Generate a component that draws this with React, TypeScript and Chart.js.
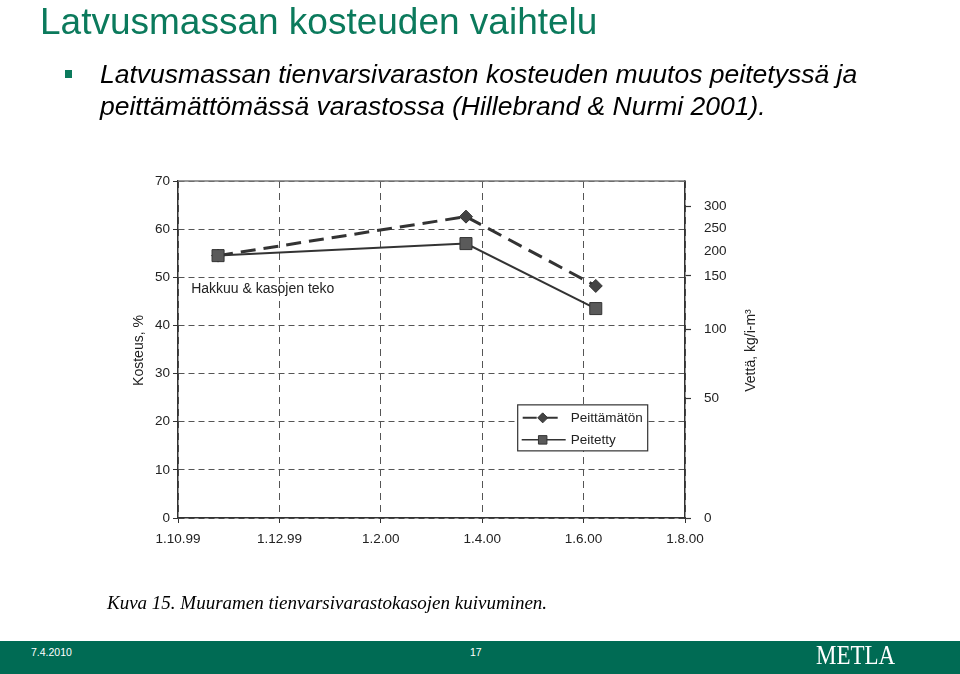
import React, { useEffect, useRef } from "react";
import { Chart, registerables } from "chart.js";

Chart.register(...registerables);

const TITLE = "Latvusmassan kosteuden vaihtelu";
const BULLET_LINES = [
  "Latvusmassan tienvarsivaraston kosteuden muutos peitetyssä ja",
  "peittämättömässä varastossa (Hillebrand & Nurmi 2001).",
];
const CAPTION = "Kuva 15. Muuramen tienvarsivarastokasojen kuivuminen.";
const FOOTER_DATE = "7.4.2010";
const FOOTER_PAGE = "17";
const LOGO = "METLA";

// x: months since 1.10.1999
const xTickMonths = [0, 2, 4, 6, 8, 10];
const xTickLabels = ["1.10.99", "1.12.99", "1.2.00", "1.4.00", "1.6.00", "1.8.00"];
const measureMonths = [0.79, 5.68, 8.24];
const peittamatonValues = [54.5, 62.6, 48.2];
const peitettyValues = [54.5, 57.0, 43.5];
const seriesLabels = ["Peittämätön", "Peitetty"];

const leftTicks = [0, 10, 20, 30, 40, 50, 60, 70];
// right axis: water content labels and the moisture-% level at which each sits
const rightTickLabels = ["0", "50", "100", "150", "200", "250", "300"];
const rightTickMoisture = [0, 24.9, 39.1, 50.3, 55.3, 60.1, 64.7];

const leftAxisTitle = "Kosteus, %";
const rightAxisTitle = "Vettä, kg/i-m³";
const annotationText = "Hakkuu & kasojen teko";
const annotationAt = { month: 0.26, value: 47.6 };
const legendAt = { month: 6.7, value: 23.5 };

const SANS = "'Liberation Sans', Arial, sans-serif";
const SERIF = "'Liberation Serif', 'Times New Roman', serif";
const INK = "#222";
const GREEN = "#0B7A5C";
const BAR = "#006B54";

function drawMarker(ctx: CanvasRenderingContext2D, style: string, x: number, y: number, r: number) {
  ctx.beginPath();
  if (style === "rectRot") {
    ctx.moveTo(x, y - r);
    ctx.lineTo(x + r, y);
    ctx.lineTo(x, y + r);
    ctx.lineTo(x - r, y);
    ctx.closePath();
  } else {
    const s = r * Math.SQRT1_2;
    ctx.rect(x - s, y - s, 2 * s, 2 * s);
  }
  ctx.fill();
  ctx.stroke();
}

const extrasPlugin = {
  id: "extras",
  afterDraw(chart: any) {
    const { ctx, chartArea, scales } = chart;
    const xs = scales.x;
    const ys = scales.y;
    ctx.save();
    // top frame line
    ctx.strokeStyle = "#777";
    ctx.lineWidth = 1.5;
    ctx.beginPath();
    ctx.moveTo(chartArea.left, chartArea.top);
    ctx.lineTo(chartArea.right, chartArea.top);
    ctx.stroke();

    // annotation
    ctx.fillStyle = INK;
    ctx.font = `14px ${SANS}`;
    ctx.textAlign = "left";
    ctx.textBaseline = "middle";
    ctx.fillText(annotationText, xs.getPixelForValue(annotationAt.month), ys.getPixelForValue(annotationAt.value));

    // axis titles
    const midY = (chartArea.top + chartArea.bottom) / 2 + 1;
    ctx.font = `14px ${SANS}`;
    ctx.textAlign = "center";
    ctx.save();
    ctx.translate(139, midY);
    ctx.rotate(-Math.PI / 2);
    ctx.fillText(leftAxisTitle, 0, 0);
    ctx.restore();
    ctx.save();
    ctx.translate(751, midY);
    ctx.rotate(-Math.PI / 2);
    ctx.fillText(rightAxisTitle, 0, 0);
    ctx.restore();

    // legend box
    const lx = xs.getPixelForValue(legendAt.month);
    const ly = ys.getPixelForValue(legendAt.value);
    const w = 130;
    const h = 46;
    ctx.fillStyle = "#fff";
    ctx.fillRect(lx, ly, w, h);
    ctx.strokeStyle = "#333";
    ctx.lineWidth = 1.2;
    ctx.strokeRect(lx, ly, w, h);
    chart.data.datasets.forEach((ds: any, i: number) => {
      const ry = ly + 13 + i * 22;
      ctx.strokeStyle = "#333";
      ctx.lineWidth = i === 0 ? 2 : 1.5;
      ctx.setLineDash(i === 0 ? [14, 7] : []);
      ctx.lineDashOffset = i === 0 ? -1 : 0;
      ctx.beginPath();
      ctx.moveTo(lx + 4, ry);
      ctx.lineTo(lx + (i === 0 ? 43 : 48), ry);
      ctx.stroke();
      ctx.setLineDash([]);
      ctx.fillStyle = ds.pointBackgroundColor;
      ctx.strokeStyle = ds.pointBorderColor;
      ctx.lineWidth = 1;
      drawMarker(ctx, ds.pointStyle, lx + 25, ry, i === 0 ? 5 : 6);
      ctx.fillStyle = INK;
      ctx.font = `13.5px ${SANS}`;
      ctx.textAlign = "left";
      ctx.textBaseline = "middle";
      ctx.fillText(ds.label, lx + 53, ry);
    });
    ctx.restore();
  },
};

function MoistureChart() {
  const ref = useRef<HTMLCanvasElement | null>(null);
  useEffect(() => {
    if (!ref.current) return;
    const tickFont = { family: SANS, size: 13.5 };
    const chart = new Chart(ref.current, {
      type: "line",
      data: {
        datasets: [
          {
            label: seriesLabels[0],
            data: measureMonths.map((m, i) => ({ x: m, y: peittamatonValues[i] })),
            borderColor: "#333",
            borderWidth: 3,
            borderDash: [15, 8],
            pointStyle: "rectRot",
            pointRadius: 6.5,
            pointBackgroundColor: "#444",
            pointBorderColor: "#333",
            pointBorderWidth: 1,
            order: 1,
          },
          {
            label: seriesLabels[1],
            data: measureMonths.map((m, i) => ({ x: m, y: peitettyValues[i] })),
            borderColor: "#333",
            borderWidth: 2,
            pointStyle: "rect",
            pointRadius: 8.5,
            pointBackgroundColor: "#5a5a5a",
            pointBorderColor: "#333",
            pointBorderWidth: 1,
            order: 0,
          },
        ] as any,
      },
      options: {
        animation: false,
        responsive: false,
        events: [],
        layout: { padding: { left: 120, right: 190, top: 181, bottom: 119 } },
        plugins: { legend: { display: false }, tooltip: { enabled: false } },
        scales: {
          x: {
            type: "linear",
            min: 0,
            max: 10,
            afterBuildTicks: (s: any) => {
              s.ticks = xTickMonths.map((v) => ({ value: v }));
            },
            afterFit: (s: any) => {
              s.height = 37;
            },
            ticks: {
              callback: (_v: any, i: number) => xTickLabels[i],
              color: INK,
              font: tickFont,
              padding: 8,
              maxRotation: 0,
              autoSkip: false,
            },
            grid: { color: "#555", lineWidth: 1, tickLength: 5, tickColor: "#333", tickBorderDash: [] },
            border: { display: true, color: "#333", width: 1.5, dash: [7, 5] },
          },
          y: {
            type: "linear",
            position: "left",
            min: 0,
            max: 70,
            afterBuildTicks: (s: any) => {
              s.ticks = leftTicks.map((v) => ({ value: v }));
            },
            afterFit: (s: any) => {
              s.width = 58;
            },
            ticks: { color: INK, font: tickFont, padding: 3 },
            grid: { color: "#555", lineWidth: 1, tickLength: 5, tickColor: "#333", tickBorderDash: [] },
            border: { display: true, color: "#333", width: 1.5, dash: [6, 4] },
          },
          y2: {
            type: "linear",
            position: "right",
            min: 0,
            max: 70,
            afterBuildTicks: (s: any) => {
              s.ticks = rightTickMoisture.map((v) => ({ value: v }));
            },
            afterFit: (s: any) => {
              s.width = 85;
            },
            ticks: {
              callback: (_v: any, i: number) => rightTickLabels[i],
              color: INK,
              font: tickFont,
              padding: 13,
            },
            grid: {
              drawOnChartArea: false,
              tickLength: 6,
              tickColor: (c: any) => (c.index === 4 || c.index === 5 ? "rgba(0,0,0,0)" : "#333"),
              tickWidth: 1.2,
              tickBorderDash: [],
            },
            border: { display: true, color: "#333", width: 1.5 },
          },
        },
      } as any,
      plugins: [extrasPlugin],
    });
    return () => chart.destroy();
  }, []);
  return (
    <canvas
      ref={ref}
      width={960}
      height={674}
      style={{ position: "absolute", left: 0, top: 0, width: 960, height: 674 }}
    />
  );
}

export default function App() {
  return (
    <div
      style={{
        position: "fixed",
        left: 0,
        top: 0,
        width: 960,
        height: 674,
        background: "#fff",
        overflow: "hidden",
        fontFamily: SANS,
      }}
    >
      <MoistureChart />
      <div
        style={{
          position: "absolute",
          left: 40,
          top: 3,
          fontSize: 37,
          lineHeight: "37px",
          color: GREEN,
          whiteSpace: "nowrap",
        }}
      >
        {TITLE}
      </div>
      <div style={{ position: "absolute", left: 65, top: 70, width: 7, height: 8, background: GREEN }} />
      <div
        style={{
          position: "absolute",
          left: 100,
          top: 58,
          fontSize: 26.5,
          lineHeight: "32px",
          fontStyle: "italic",
          color: "#000",
          whiteSpace: "nowrap",
        }}
      >
        {BULLET_LINES.map((l, i) => (
          <div key={i}>{l}</div>
        ))}
      </div>
      <div
        style={{
          position: "absolute",
          left: 107,
          top: 593,
          fontSize: 19,
          lineHeight: "19px",
          fontStyle: "italic",
          fontFamily: SERIF,
          color: "#000",
          whiteSpace: "nowrap",
        }}
      >
        {CAPTION}
      </div>
      <div style={{ position: "absolute", left: 0, top: 641, width: 960, height: 33, background: BAR }}>
        <div
          style={{
            position: "absolute",
            left: 31,
            top: 5,
            fontSize: 10.5,
            lineHeight: "12px",
            color: "#fff",
          }}
        >
          {FOOTER_DATE}
        </div>
        <div
          style={{
            position: "absolute",
            left: 470,
            top: 5,
            fontSize: 10.5,
            lineHeight: "12px",
            color: "#fff",
          }}
        >
          {FOOTER_PAGE}
        </div>
        <div
          style={{
            position: "absolute",
            left: 816,
            top: 0,
            fontSize: 25,
            lineHeight: "25px",
            fontFamily: SERIF,
            color: "#fff",
            transform: "scaleX(0.92) scaleY(1.1)",
            transformOrigin: "left top",
          }}
        >
          {LOGO}
        </div>
      </div>
    </div>
  );
}
